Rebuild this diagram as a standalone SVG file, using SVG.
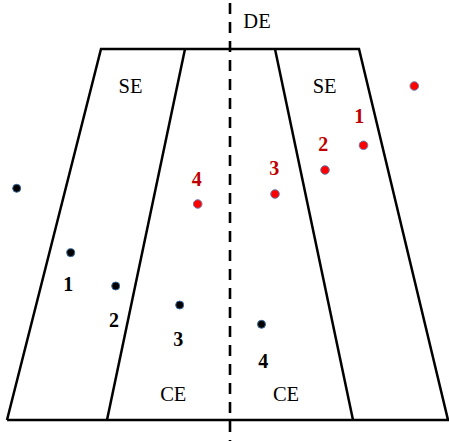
<svg xmlns="http://www.w3.org/2000/svg" width="449" height="441" viewBox="0 0 449 441">
<style>
.ln{stroke:#000;stroke-width:2.5;fill:none;stroke-linejoin:miter}
.dash{stroke:#000;stroke-width:2.6;stroke-dasharray:11 8;fill:none}
.lbl{font-family:"Liberation Serif",serif;font-size:20.5px;fill:#000;text-anchor:middle}
.num{font-family:"Liberation Serif",serif;font-size:20px;font-weight:bold;text-anchor:middle}
.nb{fill:#000}
.nr{fill:#c00000}
.db{fill:#000;stroke:#3a6a9a;stroke-width:1}
.dr{fill:#ff0000;stroke:#6a7fb0;stroke-width:1}
</style>
<g id="frame">
<polyline class="ln" points="7,420 101,49 359,49 448,420 7,420"/>
</g>
<g id="connectors">
<line class="ln" x1="185" y1="49" x2="107" y2="420"/>
<line class="ln" x1="275" y1="49" x2="353" y2="420"/>
<line class="dash" x1="230" y1="3" x2="230" y2="441"/>
</g>
<g id="labels">
<text class="lbl" x="257" y="27.8">DE</text>
<text class="lbl" x="130.5" y="92.8">SE</text>
<text class="lbl" x="324.7" y="92.8">SE</text>
<text class="lbl" x="173.3" y="400.8">CE</text>
<text class="lbl" x="286" y="400.8">CE</text>
</g>
<g id="black-points">
<circle class="db" cx="16.7" cy="188.3" r="4"/>
<circle class="db" cx="70.7" cy="252.7" r="4"/>
<circle class="db" cx="115.7" cy="286" r="4"/>
<circle class="db" cx="179.7" cy="305" r="4"/>
<circle class="db" cx="261.5" cy="324.3" r="4"/>
<text class="num nb" x="68.3" y="290.7">1</text>
<text class="num nb" x="114" y="326.7">2</text>
<text class="num nb" x="178.3" y="346">3</text>
<text class="num nb" x="263.3" y="368.3">4</text>
</g>
<g id="red-points">
<circle class="dr" cx="414.3" cy="86" r="4.3"/>
<circle class="dr" cx="363.5" cy="145.3" r="4.3"/>
<circle class="dr" cx="325" cy="170" r="4.3"/>
<circle class="dr" cx="275" cy="194" r="4.3"/>
<circle class="dr" cx="197.7" cy="204" r="4.3"/>
<text class="num nr" x="359.3" y="122.7">1</text>
<text class="num nr" x="323.3" y="150.7">2</text>
<text class="num nr" x="274.3" y="175">3</text>
<text class="num nr" x="196.7" y="186">4</text>
</g>
</svg>
